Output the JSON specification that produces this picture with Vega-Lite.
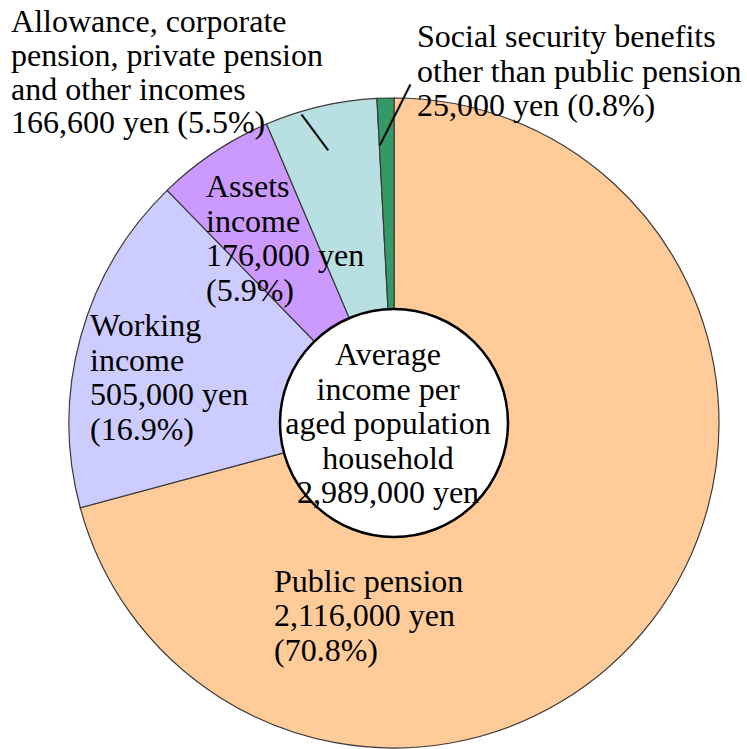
{
  "$schema": "https://vega.github.io/schema/vega-lite/v6.json",
  "width": 706,
  "height": 652,
  "autosize": "none",
  "padding": {"left": 41, "top": 97, "right": 0, "bottom": 0},
  "background": "white",
  "config": {"view": {"stroke": null}},
  "datasets": {
    "slices": [
      {"id": "pp", "name": "Public pension", "value": 2116000, "ord": 1, "lines": ["Public pension", "2,116,000 yen", "(70.8%)"]},
      {"id": "wi", "name": "Working income", "value": 505000, "ord": 2, "lines": ["Working", "income", "505,000 yen", "(16.9%)"]},
      {"id": "as", "name": "Assets income", "value": 176000, "ord": 3, "lines": ["Assets", "income", "176,000 yen", "(5.9%)"]},
      {"id": "al", "name": "Allowance, corporate pension, private pension and other incomes", "value": 166600, "ord": 4, "lines": ["Allowance, corporate", "pension, private pension", "and other incomes", "166,600 yen (5.5%)"]},
      {"id": "ss", "name": "Social security benefits other than public pension", "value": 25000, "ord": 5, "lines": ["Social security benefits", "other than public pension", "25,000 yen (0.8%)"]}
    ],
    "total": [
      {"value": 2989000, "lines": ["Average", "income per", "aged population", "household", "2,989,000 yen"]}
    ]
  },
  "data": {"name": "slices"},
  "resolve": {"scale": {"theta": "independent"}},
  "layer": [
    {
      "mark": {"type": "arc", "outerRadius": 325, "innerRadius": 0, "stroke": "#3a3a3a", "strokeWidth": 1.2},
      "encoding": {
        "theta": {"field": "value", "type": "quantitative", "stack": true},
        "order": {"field": "ord", "type": "quantitative"},
        "color": {
          "field": "id", "type": "nominal", "legend": null,
          "scale": {"domain": ["pp", "wi", "as", "al", "ss"], "range": ["#FFCC99", "#CCCCFF", "#CC99FF", "#B8DFE2", "#339966"]}
        }
      }
    },
    {
      "data": {"name": "total"},
      "mark": {"type": "arc", "outerRadius": 114, "innerRadius": 0, "fill": "white", "stroke": "black", "strokeWidth": 2.5},
      "encoding": {
        "theta": {"field": "value", "type": "quantitative", "stack": true}
      }
    },
    {
      "mark": {"type": "text", "radius": 308, "dx": 4.2, "dy": 6.4, "angle": 296.57, "align": "center", "baseline": "middle", "font": "Liberation Serif", "fontSize": 22.3, "fill": "black", "stroke": "black", "strokeWidth": 0.8},
      "encoding": {
        "theta": {"field": "value", "type": "quantitative", "stack": true},
        "order": {"field": "ord", "type": "quantitative"},
        "text": {"condition": {"test": "datum.id === 'ss'", "value": "———"}, "value": ""}
      }
    },
    {
      "mark": {"type": "text", "radius": 301, "dx": -4.6, "dy": 8.8, "angle": 53.4, "align": "center", "baseline": "middle", "font": "Liberation Serif", "fontSize": 21.8, "fill": "black", "stroke": "black", "strokeWidth": 0.8},
      "encoding": {
        "theta": {"field": "value", "type": "quantitative", "stack": true},
        "order": {"field": "ord", "type": "quantitative"},
        "text": {"condition": {"test": "datum.id === 'al'", "value": "——"}, "value": ""}
      }
    },
    {
      "mark": {"type": "text", "radius": 80, "dx": -183.5, "dy": 120.3, "align": "left", "baseline": "alphabetic", "font": "Liberation Serif", "fontSize": 32, "lineHeight": 34.5, "fill": "black"},
      "encoding": {
        "theta": {"field": "value", "type": "quantitative", "stack": true},
        "order": {"field": "ord", "type": "quantitative"},
        "text": {"condition": {"test": "datum.id === 'pp'", "field": "lines"}, "value": ""}
      }
    },
    {
      "mark": {"type": "text", "radius": 220, "dx": -91.8, "dy": -28.9, "align": "left", "baseline": "alphabetic", "font": "Liberation Serif", "fontSize": 32, "lineHeight": 34.5, "fill": "black"},
      "encoding": {
        "theta": {"field": "value", "type": "quantitative", "stack": true},
        "order": {"field": "ord", "type": "quantitative"},
        "text": {"condition": {"test": "datum.id === 'wi'", "field": "lines"}, "value": ""}
      }
    },
    {
      "mark": {"type": "text", "radius": 220, "dx": -66, "dy": -42.9, "align": "left", "baseline": "alphabetic", "font": "Liberation Serif", "fontSize": 32, "lineHeight": 34.5, "fill": "black"},
      "encoding": {
        "theta": {"field": "value", "type": "quantitative", "stack": true},
        "order": {"field": "ord", "type": "quantitative"},
        "text": {"condition": {"test": "datum.id === 'as'", "field": "lines"}, "value": ""}
      }
    },
    {
      "mark": {"type": "text", "radius": 340, "dx": -306.2, "dy": -59.8, "align": "left", "baseline": "alphabetic", "font": "Liberation Serif", "fontSize": 32, "lineHeight": 33.8, "fill": "black"},
      "encoding": {
        "theta": {"field": "value", "type": "quantitative", "stack": true},
        "order": {"field": "ord", "type": "quantitative"},
        "text": {"condition": {"test": "datum.id === 'al'", "field": "lines"}, "value": ""}
      }
    },
    {
      "mark": {"type": "text", "radius": 340, "dx": 32, "dy": -36.1, "align": "left", "baseline": "alphabetic", "font": "Liberation Serif", "fontSize": 32, "lineHeight": 34.5, "fill": "black"},
      "encoding": {
        "theta": {"field": "value", "type": "quantitative", "stack": true},
        "order": {"field": "ord", "type": "quantitative"},
        "text": {"condition": {"test": "datum.id === 'ss'", "field": "lines"}, "value": ""}
      }
    },
    {
      "data": {"name": "total"},
      "mark": {"type": "text", "radius": 0, "dx": -6, "dy": -58, "align": "center", "baseline": "alphabetic", "font": "Liberation Serif", "fontSize": 32, "lineHeight": 34.5, "fill": "black"},
      "encoding": {
        "theta": {"field": "value", "type": "quantitative", "stack": true},
        "text": {"field": "lines", "type": "nominal"}
      }
    }
  ]
}
